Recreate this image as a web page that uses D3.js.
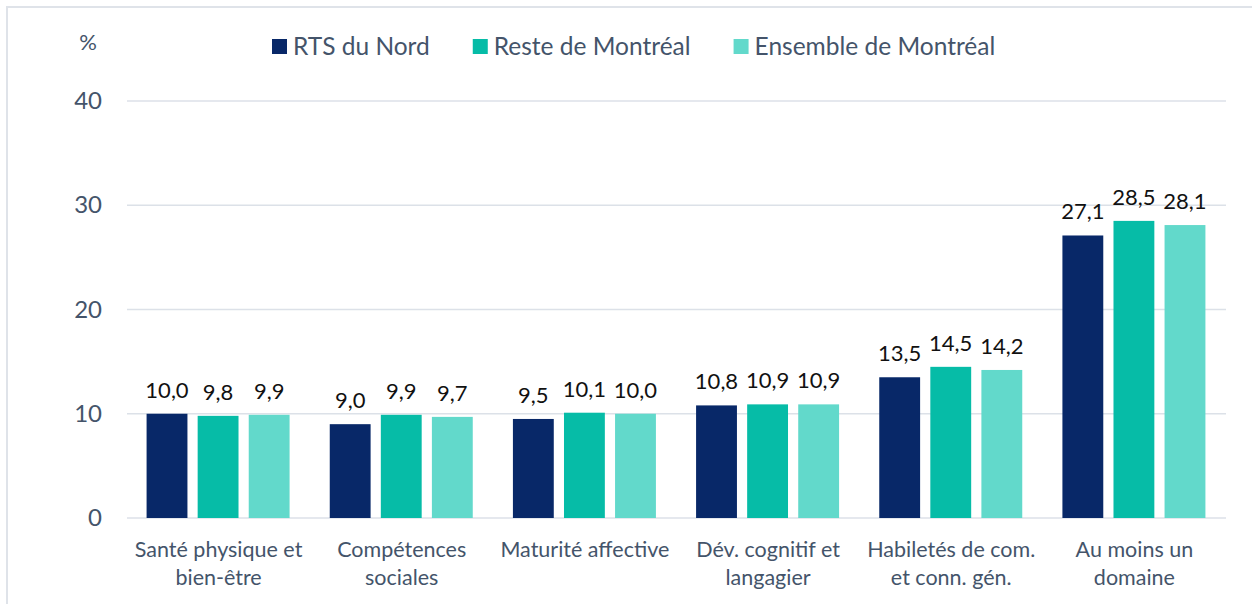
<!DOCTYPE html>
<html>
<head>
<meta charset="utf-8">
<script src="https://cdn.jsdelivr.net/npm/d3@7"></script>
<style>
  body { margin: 0; background: #fff; }
  svg text { font-family: Lato, "Open Sans", sans-serif; }
</style>
</head>
<body>
<svg id="chart" width="1252" height="604"></svg>
<script>
const categories = [
  ["Santé physique et", "bien-être"],
  ["Compétences", "sociales"],
  ["Maturité affective"],
  ["Dév. cognitif et", "langagier"],
  ["Habiletés de com.", "et conn. gén."],
  ["Au moins un", "domaine"]
];
const seriesNames = ["RTS du Nord", "Reste de Montréal", "Ensemble de Montréal"];
const rtsNord = [10.0, 9.0, 9.5, 10.8, 13.5, 27.1];
const resteMtl = [9.8, 9.9, 10.1, 10.9, 14.5, 28.5];
const ensembleMtl = [9.9, 9.7, 10.0, 10.9, 14.2, 28.1];
const yTicks = [0, 10, 20, 30, 40];
const colors = ["#082868", "#06BCA7", "#62D9CB"];

const values = [rtsNord, resteMtl, ensembleMtl];
const data = categories.map((c, i) => ({
  key: c.join(" "),
  lines: c,
  vals: seriesNames.map((s, j) => ({ series: s, value: values[j][i] }))
}));

const textColor = "#44546A";
const gridColor = "#DCE1E8";
const svg = d3.select("#chart");

// cadre
svg.append("rect")
  .attr("x", 7).attr("y", 7)
  .attr("width", 1300).attr("height", 700)
  .attr("fill", "none")
  .attr("stroke", "#DFE3E9")
  .attr("stroke-width", 2);

const x0 = d3.scaleBand().domain(data.map(d => d.key)).range([127, 1226]);
const bw = x0.bandwidth();
const x1 = d3.scaleBand().domain(seriesNames)
  .range([bw / 2 - 72, bw / 2 + 71]).paddingInner(0.2);
const y = d3.scaleLinear().domain([0, 40]).range([518, 101]);

const fr = d3.formatLocale({ decimal: ",", thousands: " ", grouping: [3], currency: ["", " $"] });
const fmt = fr.format(".1f");

// grille
svg.append("g")
  .selectAll("line")
  .data(yTicks)
  .join("line")
  .attr("x1", 127).attr("x2", 1226)
  .attr("y1", d => y(d)).attr("y2", d => y(d))
  .attr("stroke", gridColor)
  .attr("stroke-width", 1.5);

// axe Y
const yAxis = svg.append("g")
  .attr("transform", "translate(102,0)")
  .call(d3.axisLeft(y).tickValues(yTicks).tickSize(0).tickPadding(0));
yAxis.select(".domain").remove();
yAxis.selectAll("text")
  .attr("fill", textColor)
  .attr("font-size", 24)
  .attr("font-family", "Lato, sans-serif");

svg.append("text")
  .attr("x", 88).attr("y", 50)
  .attr("text-anchor", "middle")
  .attr("fill", textColor)
  .attr("font-size", 22)
  .text("%");

// barres
const groups = svg.append("g")
  .selectAll("g")
  .data(data)
  .join("g")
  .attr("transform", d => `translate(${x0(d.key)},0)`);

groups.selectAll("rect")
  .data(d => d.vals)
  .join("rect")
  .attr("x", d => x1(d.series))
  .attr("width", x1.bandwidth())
  .attr("y", d => y(d.value))
  .attr("height", d => y(0) - y(d.value))
  .attr("fill", (d, i) => colors[i]);

groups.selectAll("text.val")
  .data(d => d.vals)
  .join("text")
  .attr("class", "val")
  .attr("x", d => x1(d.series) + x1.bandwidth() / 2)
  .attr("y", d => y(d.value) - 16)
  .attr("text-anchor", "middle")
  .attr("fill", "#111")
  .attr("font-size", 22)
  .text(d => fmt(d.value));

// étiquettes des catégories
groups.append("text")
  .attr("text-anchor", "middle")
  .attr("fill", textColor)
  .attr("font-size", 21.5)
  .selectAll("tspan")
  .data(d => d.lines)
  .join("tspan")
  .attr("x", bw / 2)
  .attr("y", (d, i) => 557 + i * 28)
  .text(d => d);

// légende
const legend = svg.append("g");
let lx = 272;
seriesNames.forEach((s, i) => {
  legend.append("rect")
    .attr("x", lx).attr("y", 39)
    .attr("width", 15).attr("height", 15)
    .attr("fill", colors[i]);
  const t = legend.append("text")
    .attr("x", lx + 21).attr("y", 55)
    .attr("fill", textColor)
    .attr("font-size", 24.5)
    .text(s);
  lx += 21 + t.node().getComputedTextLength() + 43;
});
</script>
</body>
</html>
